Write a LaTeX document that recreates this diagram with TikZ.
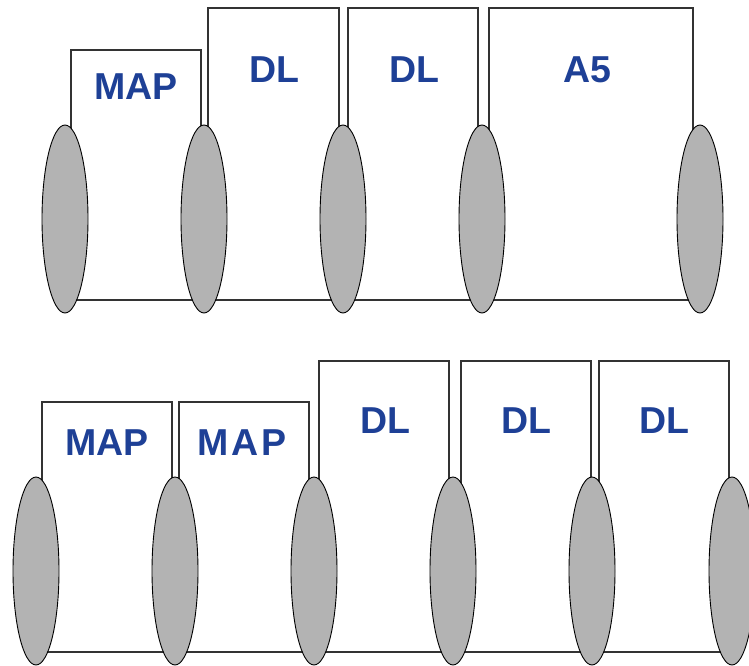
\documentclass[tikz,border=0pt]{standalone}
\usepackage{fontspec}
\setmainfont{Liberation Sans}
\usepackage{tikz}
\usetikzlibrary{shapes.geometric}
\definecolor{labelblue}{RGB}{30,64,150}
\definecolor{ringgray}{RGB}{179,179,179}

\begin{document}
\begin{tikzpicture}[x=1pt,y=-1pt,
  box/.style={draw=black!80,line width=1.2pt,fill=white,inner sep=0pt,minimum width=130pt},
  ring/.style={draw=black,line width=0.9pt,fill=ringgray,ellipse,inner sep=0pt,minimum width=46pt,minimum height=188pt},
  tag/.style={text=labelblue,anchor=base,inner sep=0pt,font=\fontsize{37.5}{40}\selectfont\bfseries}]
  \useasboundingbox (0,0) rectangle (749,666);
  % upper row
  \node[box,minimum height=250pt] (mapa) at (136,175) {};
  \node[box,minimum width=131pt,minimum height=292pt] (dla) at (273.5,154) {};
  \node[box,minimum height=292pt] (dlb) at (413,154) {};
  \node[box,minimum width=204pt,minimum height=292pt] (afive) at (591,154) {};
  \node[tag] (mapa-t) at (136,99.5) {MAP};
  \node[tag] (dla-t) at (274,83) {DL};
  \node[tag] (dlb-t) at (414,83) {DL};
  \node[tag] (afive-t) at (587,83) {A5};
  \node[ring] (ra1) at (65,219) {};
  \node[ring] (ra2) at (204,219) {};
  \node[ring] (ra3) at (343,219) {};
  \node[ring] (ra4) at (482,219) {};
  \node[ring] (ra5) at (700,219) {};
  % lower row
  \node[box,minimum height=250pt] (mapc) at (107,527) {};
  \node[box,minimum height=250pt] (mapd) at (244,527) {};
  \node[box,minimum height=291pt] (dlc) at (384,506.5) {};
  \node[box,minimum height=291pt] (dld) at (526,506.5) {};
  \node[box,minimum height=291pt] (dle) at (664,506.5) {};
  \node[tag] (mapc-t) at (107,455) {MAP};
  \node[tag] (mapd-t) at (242,455) {M\kern3pt A\kern3pt P};
  \node[tag] (dlc-t) at (385,433) {DL};
  \node[tag] (dld-t) at (526,433) {DL};
  \node[tag] (dle-t) at (664,433) {DL};
  \node[ring] (rb1) at (36,571) {};
  \node[ring] (rb2) at (175,571) {};
  \node[ring] (rb3) at (314,571) {};
  \node[ring] (rb4) at (453,571) {};
  \node[ring] (rb5) at (592,571) {};
  \node[ring] (rb6) at (732,571) {};
\end{tikzpicture}
\end{document}
